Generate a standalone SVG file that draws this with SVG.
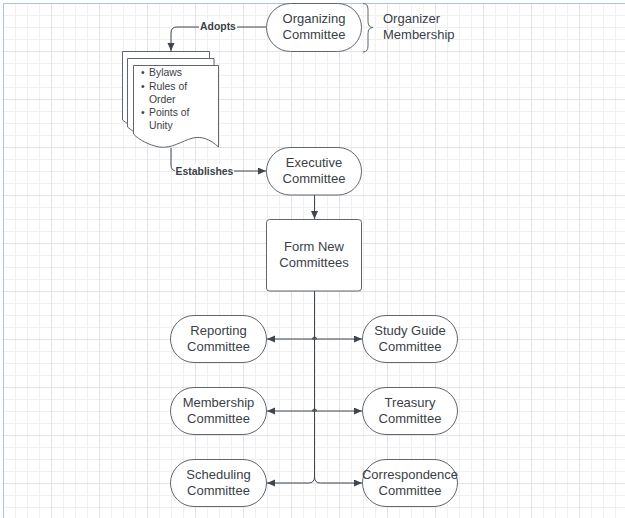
<svg xmlns="http://www.w3.org/2000/svg" width="625" height="518" viewBox="0 0 625 518">
  <defs>
    <pattern id="grid" patternUnits="userSpaceOnUse" x="3" y="3" width="48" height="48">
      <rect x="0" y="0" width="48" height="48" fill="#ffffff"/>
      <g fill="#f0f0f1">
        <rect x="12" y="0" width="1" height="48"/>
        <rect x="24" y="0" width="1" height="48"/>
        <rect x="36" y="0" width="1" height="48"/>
        <rect x="0" y="12" width="48" height="1"/>
        <rect x="0" y="24" width="48" height="1"/>
        <rect x="0" y="36" width="48" height="1"/>
      </g>
      <g fill="#e3e3e5">
        <rect x="0" y="0" width="1" height="48"/>
        <rect x="0" y="0" width="48" height="1"/>
      </g>
    </pattern>
    <marker id="arrow" markerUnits="userSpaceOnUse" markerWidth="9" markerHeight="8" refX="8" refY="3.5" orient="auto">
      <path d="M0,0 L8,3.5 L0,7 Z" fill="#3f4650"/>
    </marker>
    <style>
      .shape { fill: #ffffff; stroke: #5f6670; stroke-width: 1; }
      .conn { fill: none; stroke: #3f4650; stroke-width: 1; }
      .t { font-family: "Liberation Sans", Arial, sans-serif; font-size: 13px; fill: #3b4048; text-anchor: middle; }
      .tl { font-family: "Liberation Sans", Arial, sans-serif; font-size: 13px; fill: #3b4048; }
      .small { font-family: "Liberation Sans", Arial, sans-serif; font-size: 10.4px; fill: #3b4048; }
      .lbl { font-family: "Liberation Sans", Arial, sans-serif; font-size: 10.4px; font-weight: bold; fill: #3b4048; text-anchor: middle; }
    </style>
  </defs>

  <rect x="0" y="0" width="625" height="518" fill="#ffffff"/>
  <rect x="3" y="3" width="622" height="515" fill="url(#grid)"/>
  <line x1="3.5" y1="3" x2="3.5" y2="518" stroke="#a4c2f4" stroke-width="1"/>
  <line x1="3" y1="3.5" x2="625" y2="3.5" stroke="#a4c2f4" stroke-width="1"/>

  <g id="connectors">
    <path class="conn" d="M266,27 H177 Q171,27 171,33 V51" marker-end="url(#arrow)"/>
    <rect x="199" y="20" width="38" height="12" fill="#ffffff"/>
    <text class="lbl" x="218" y="29.5">Adopts</text>

    <path class="conn" d="M171,148 V165 Q171,171 177,171 H266" marker-end="url(#arrow)"/>
    <rect x="175" y="164" width="59" height="12" fill="#ffffff"/>
    <text class="lbl" x="204.5" y="174.5">Establishes</text>

    <path class="conn" d="M314.5,195 V219" marker-end="url(#arrow)"/>

    <path class="conn" d="M314.5,291 V477"/>
    <path class="conn" d="M314.5,477 Q314.5,483 308.5,483 H267" marker-end="url(#arrow)"/>
    <path class="conn" d="M314.5,477 Q314.5,483 320.5,483 H362" marker-end="url(#arrow)"/>

    <path class="conn" d="M316.5,339 H267" marker-end="url(#arrow)"/>
    <path class="conn" d="M312.5,339 A2,2 0 0 1 316.5,339"/>
    <path class="conn" d="M312.5,339 H362" marker-end="url(#arrow)"/>

    <path class="conn" d="M316.5,411 H267" marker-end="url(#arrow)"/>
    <path class="conn" d="M312.5,411 A2,2 0 0 1 316.5,411"/>
    <path class="conn" d="M312.5,411 H362" marker-end="url(#arrow)"/>
  </g>

  <g id="organizing">
    <rect class="shape" x="266.5" y="3.5" width="95" height="48" rx="24"/>
    <text class="t" x="314" y="22.5">Organizing</text>
    <text class="t" x="314" y="38.5">Committee</text>
  </g>

  <g id="organizer-membership">
    <path class="shape" fill="none" style="fill:none" d="M363,3.5 Q368,3.5 368,9.5 V21.5 Q368,27.5 373,27.5 Q368,27.5 368,33.5 V46 Q368,52 363,52"/>
    <text class="tl" x="383" y="22.5">Organizer</text>
    <text class="tl" x="383" y="38.5">Membership</text>
  </g>

  <g id="documents">
    <path class="shape" d="M122.5,51.5 H209.5 V133 C201,125 192,122 184,124 C172,127 163,135 150,133 C140,131 130,126 122.5,120 Z"/>
    <path class="shape" d="M127.5,58.5 H214 V140 C205.5,132 196.5,129 188.5,131 C176.5,134 167.5,142 154.5,140 C144.5,138 134.5,133 127.5,127 Z"/>
    <path class="shape" d="M133.5,65.5 H218.5 V147 C210,139 201,136 193,138 C181,141 172,149 159,147 C149,145 139,140 133.5,134 Z"/>
    <text class="small" x="141" y="76">•</text>
    <text class="small" x="149" y="76">Bylaws</text>
    <text class="small" x="141" y="89.5">•</text>
    <text class="small" x="149" y="89.5">Rules of</text>
    <text class="small" x="149" y="102.5">Order</text>
    <text class="small" x="141" y="115.5">•</text>
    <text class="small" x="149" y="115.5">Points of</text>
    <text class="small" x="149" y="128.5">Unity</text>
  </g>

  <g id="executive">
    <rect class="shape" x="266.5" y="147.5" width="95" height="47.5" rx="23.5"/>
    <text class="t" x="314" y="166.5">Executive</text>
    <text class="t" x="314" y="182.5">Committee</text>
  </g>

  <g id="form-new">
    <rect class="shape" x="266.5" y="219.5" width="95" height="71.5" rx="3"/>
    <text class="t" x="314" y="250.5">Form New</text>
    <text class="t" x="314" y="266.5">Committees</text>
  </g>

  <g id="reporting">
    <rect class="shape" x="170.5" y="315.5" width="96" height="47" rx="23.5"/>
    <text class="t" x="218.5" y="334.5">Reporting</text>
    <text class="t" x="218.5" y="350.5">Committee</text>
  </g>

  <g id="study-guide">
    <rect class="shape" x="362.5" y="315.5" width="95" height="47" rx="23.5"/>
    <text class="t" x="410" y="334.5">Study Guide</text>
    <text class="t" x="410" y="350.5">Committee</text>
  </g>

  <g id="membership">
    <rect class="shape" x="170.5" y="387.5" width="96" height="47" rx="23.5"/>
    <text class="t" x="218.5" y="406.5">Membership</text>
    <text class="t" x="218.5" y="422.5">Committee</text>
  </g>

  <g id="treasury">
    <rect class="shape" x="362.5" y="387.5" width="95" height="47" rx="23.5"/>
    <text class="t" x="410" y="406.5">Treasury</text>
    <text class="t" x="410" y="422.5">Committee</text>
  </g>

  <g id="scheduling">
    <rect class="shape" x="170.5" y="459.5" width="96" height="47" rx="23.5"/>
    <text class="t" x="218.5" y="478.5">Scheduling</text>
    <text class="t" x="218.5" y="494.5">Committee</text>
  </g>

  <g id="correspondence">
    <rect class="shape" x="362.5" y="459.5" width="95" height="47" rx="23.5"/>
    <text class="t" x="410" y="478.5">Correspondence</text>
    <text class="t" x="410" y="494.5">Committee</text>
  </g>
</svg>
